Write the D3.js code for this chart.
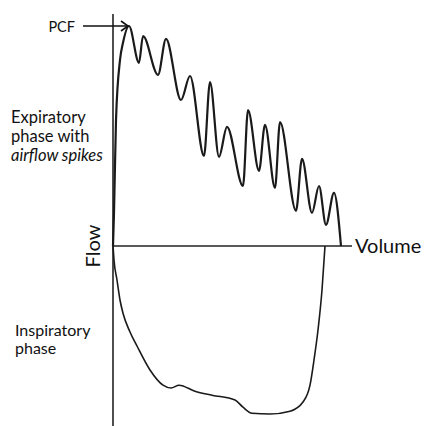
<!DOCTYPE html>
<html>
<head>
<meta charset="utf-8">
<script src="https://cdn.jsdelivr.net/npm/d3@7"></script>
<style>
  html, body { margin: 0; padding: 0; background: #fff; }
  svg { display: block; }
  text { font-family: Lato, "Liberation Sans", Arial, sans-serif; fill: #111; }
</style>
</head>
<body>
<script>
// Expiratory limb (volume in L, flow in L/s) with airflow spikes
const expVolume = [0, 0.02, 0.06, 0.14, 0.20, 0.32, 0.52, 0.60, 0.90, 1.06, 1.36, 1.54, 1.82, 1.94, 2.12, 2.28, 2.60, 2.70, 2.92, 3.04, 3.24, 3.34, 3.66, 3.78, 3.98, 4.12, 4.26, 4.42, 4.56];
const expFlow   = [0, 0.83, 3.15, 4.65, 5.08, 5.50, 4.58, 5.25, 4.28, 5.18, 3.65, 4.25, 2.25, 4.10, 2.23, 2.98, 1.50, 3.40, 1.88, 3.03, 1.45, 3.10, 0.88, 2.18, 0.83, 1.50, 0.53, 1.33, 0];
// Inspiratory limb
const inspVolume = [0, 0.02, 0.08, 0.14, 0.20, 0.34, 0.48, 0.74, 1.00, 1.16, 1.32, 1.64, 1.98, 2.44, 2.60, 2.78, 3.14, 3.54, 3.80, 3.94, 4.02, 4.10, 4.18, 4.24];
const inspFlow   = [0, -0.35, -0.85, -1.35, -1.68, -2.15, -2.50, -3.10, -3.48, -3.55, -3.48, -3.63, -3.73, -3.85, -4.03, -4.18, -4.20, -4.13, -3.90, -3.48, -2.85, -2.10, -1.10, 0];
// Axis extents
const volumeDomain = [0, 4.78];
const flowDomain = [-4.5, 5.8];
const peakLabel = "PCF";
const axisLabels = { x: "Volume", y: "Flow" };
const expNote = ["Expiratory", "phase with", "airflow spikes"];
const inspNote = ["Inspiratory", "phase"];

const W = 424, H = 426;
const svg = d3.select("body").append("svg").attr("width", W).attr("height", H);

const x = d3.scaleLinear().domain(volumeDomain).range([113, 352]);
const y = d3.scaleLinear().domain(flowDomain).range([426, 14]);

// axes
svg.append("line").attr("x1", x(0)).attr("x2", x(0)).attr("y1", y(flowDomain[1])).attr("y2", y(flowDomain[0]))
  .attr("stroke", "#222").attr("stroke-width", 1.6);
svg.append("line").attr("x1", x(0)).attr("x2", x(volumeDomain[1])).attr("y1", y(0)).attr("y2", y(0))
  .attr("stroke", "#222").attr("stroke-width", 1.6);

const expData = expVolume.map((v, i) => [v, expFlow[i]]);
const inspData = inspVolume.map((v, i) => [v, inspFlow[i]]);

const lineMono = d3.line().x(d => x(d[0])).y(d => y(d[1])).curve(d3.curveMonotoneX);

svg.append("path").attr("d", lineMono(expData)).attr("fill", "none")
  .attr("stroke", "#1a1a1a").attr("stroke-width", 2.2).attr("stroke-linejoin", "round");
svg.append("path").attr("d", lineMono(inspData)).attr("fill", "none")
  .attr("stroke", "#1a1a1a").attr("stroke-width", 1.6).attr("stroke-linejoin", "round");

// PCF arrow
const peakIdx = d3.maxIndex(expFlow);
const px = x(expVolume[peakIdx]) - 1, py = y(expFlow[peakIdx]);
svg.append("line").attr("x1", 83).attr("x2", px).attr("y1", py).attr("y2", py)
  .attr("stroke", "#111").attr("stroke-width", 1.6);
svg.append("path").attr("d", `M${px - 7},${py - 5} L${px},${py} L${px - 7},${py + 5}`)
  .attr("fill", "none").attr("stroke", "#111").attr("stroke-width", 1.6);
svg.append("text").attr("x", 75).attr("y", py + 5.5).attr("text-anchor", "end")
  .attr("font-size", 14.5).text(peakLabel);

// axis labels
svg.append("text").attr("x", 355).attr("y", y(0) + 7).attr("font-size", 20).text(axisLabels.x);
svg.append("text").attr("transform", `translate(100,${y(0)}) rotate(-90)`).attr("text-anchor", "middle")
  .attr("font-size", 20).text(axisLabels.y);

// notes
const note1 = svg.append("text").attr("font-size", 16.5);
note1.append("tspan").attr("x", 11).attr("y", 123).text(expNote[0]);
note1.append("tspan").attr("x", 11).attr("y", 142).text(expNote[1]);
note1.append("tspan").attr("x", 11).attr("y", 161).attr("font-style", "italic").text(expNote[2]);

const note2 = svg.append("text").attr("font-size", 16);
note2.append("tspan").attr("x", 15).attr("y", 336).text(inspNote[0]);
note2.append("tspan").attr("x", 15).attr("y", 354).text(inspNote[1]);
</script>
</body>
</html>
